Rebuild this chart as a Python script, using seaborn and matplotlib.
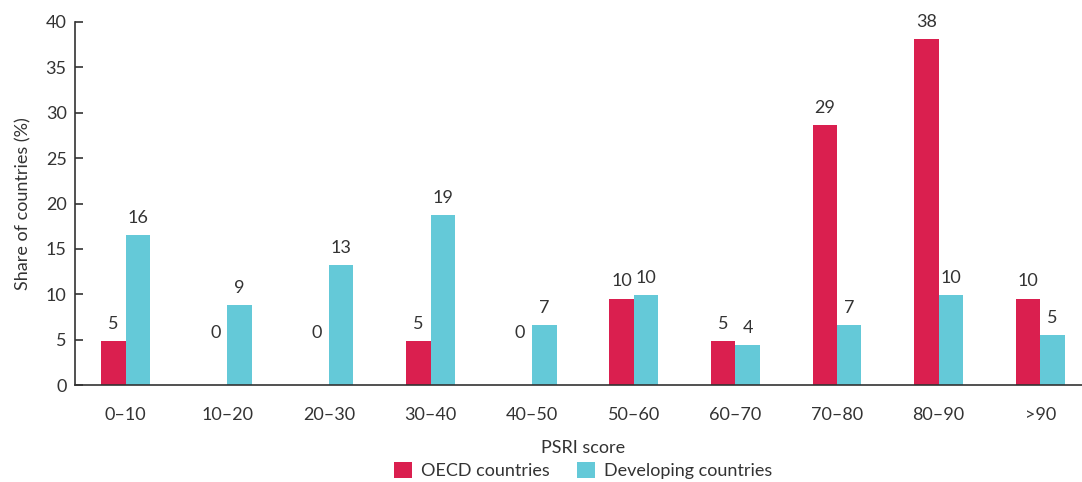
import numpy as np
import pandas as pd
import matplotlib
matplotlib.use("Agg")
import matplotlib.pyplot as plt
from matplotlib.ticker import FixedLocator
import seaborn as sns

# data
score_bins = ["0–10", "10–20", "20–30", "30–40", "40–50",
              "50–60", "60–70", "70–80", "80–90", ">90"]
oecd_share = [4.8, 0, 0, 4.8, 0, 9.5, 4.8, 28.6, 38.1, 9.5]
dev_share = [16.5, 8.8, 13.2, 18.7, 6.6, 9.9, 4.4, 6.6, 9.9, 5.5]
oecd_labels = ["5", "0", "0", "5", "0", "10", "5", "29", "38", "10"]
dev_labels = ["16", "9", "13", "19", "7", "10", "4", "7", "10", "5"]
groups = ["OECD countries", "Developing countries"]

df = pd.DataFrame({
    "bin": score_bins * 2,
    "share": oecd_share + dev_share,
    "group": [groups[0]] * len(score_bins) + [groups[1]] * len(score_bins),
})

sns.set_style("white")
plt.rcParams["font.family"] = ["Lato", "DejaVu Sans"]
txt = "#333333"
fs = 13

fig = plt.figure(figsize=(10.82, 4.82), dpi=100)
ax = fig.add_axes([75 / 1082, 97 / 482, 1016 / 1082, 363 / 482])

sns.barplot(data=df, x="bin", y="share", hue="group", order=score_bins,
            hue_order=groups, palette=["#DA1F4F", "#64C9D8"],
            width=0.48, saturation=1, linewidth=0, ax=ax, legend=True)

ax.set_xlim(-0.5, 9.5)
ax.set_ylim(0, 40)
ax.set_yticks(range(0, 41, 5))

# value labels
for bars, labels in zip(ax.containers, [oecd_labels, dev_labels]):
    for bar, lab in zip(bars, labels):
        h = bar.get_height()
        x = bar.get_x() + bar.get_width() / 2
        if h == 0:
            ax.text(x, 5.7, lab, ha="center", va="center", fontsize=fs, color=txt)
        else:
            ax.annotate(lab, (x, h), xytext=(0, 12.5), textcoords="offset points",
                        ha="center", va="center", fontsize=fs, color=txt)

for s in ["top", "right"]:
    ax.spines[s].set_visible(False)
for s in ["left", "bottom"]:
    ax.spines[s].set_color(txt)
    ax.spines[s].set_linewidth(1.2)

ax.xaxis.set_minor_locator(FixedLocator(np.arange(0.5, 9.5, 1)))
ax.tick_params(axis="x", which="major", length=0, pad=16, labelsize=fs, colors=txt)
ax.tick_params(axis="x", which="minor", direction="in", length=6, width=1.2, color=txt)
ax.tick_params(axis="y", direction="in", length=6, width=1.2, pad=6,
               labelsize=fs, colors=txt, left=True)

ax.set_xlabel("PSRI score", fontsize=fs, color=txt, labelpad=12)
ax.set_ylabel("Share of countries (%)", fontsize=fs, color=txt, labelpad=10)

handles, labels = ax.get_legend_handles_labels()
ax.legend(handles, labels, loc="center", bbox_to_anchor=(0.5, -0.236),
          ncol=2, frameon=False, fontsize=fs, handlelength=1.0, handleheight=1.0,
          handletextpad=0.5, columnspacing=1.5, labelcolor=txt)

fig.savefig("out.png", dpi=100)
